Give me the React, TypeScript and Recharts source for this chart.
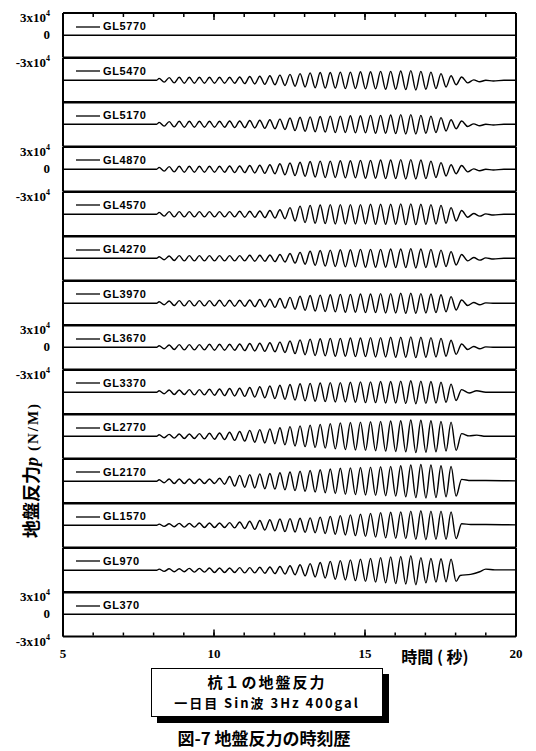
import React from 'react';
import { LineChart, Line, XAxis, YAxis, ReferenceLine, Legend } from 'recharts';

// pile 1 ground reaction, one trace per depth (top to bottom)
const depths = [
  'GL5770', 'GL5470', 'GL5170', 'GL4870', 'GL4570', 'GL4270', 'GL3970',
  'GL3670', 'GL3370', 'GL2770', 'GL2170', 'GL1570', 'GL970', 'GL370',
];
// panels that carry the 3x10^4 / 0 / -3x10^4 scale
const scaledDepths = ['GL5770', 'GL4870', 'GL3670', 'GL370'];

const waveStart = 8.1; // s
const waveFreq = 3; // Hz (sine input, see note box)

// peak amplitude of each cycle, x10^4 N/M
const amp5770: number[] = [];
const amp5470 = [0.25, 0.35, 0.4, 0.4, 0.4, 0.4, 0.4, 0.4, 0.45, 0.5, 0.55, 0.6, 0.7, 0.8, 0.9, 1.0, 1.05, 1.05, 1.1, 1.1, 1.15, 1.15, 1.2, 1.2, 1.25, 1.3, 1.2, 1.1, 0.9, 0.6];
const amp5170 = [0.25, 0.35, 0.4, 0.4, 0.4, 0.4, 0.4, 0.45, 0.45, 0.5, 0.55, 0.6, 0.7, 0.85, 0.95, 1.0, 1.05, 1.1, 1.1, 1.15, 1.15, 1.2, 1.2, 1.25, 1.3, 1.3, 1.2, 1.1, 0.9, 0.6];
const amp4870 = [0.25, 0.35, 0.4, 0.4, 0.4, 0.4, 0.4, 0.45, 0.45, 0.5, 0.55, 0.6, 0.75, 0.85, 0.95, 1.05, 1.1, 1.1, 1.15, 1.15, 1.2, 1.2, 1.25, 1.25, 1.3, 1.3, 1.25, 1.1, 0.9, 0.6];
const amp4570 = [0.25, 0.35, 0.35, 0.35, 0.35, 0.35, 0.35, 0.35, 0.4, 0.4, 0.45, 0.5, 0.6, 0.9, 1.1, 1.2, 1.25, 1.3, 1.3, 1.3, 1.3, 1.35, 1.35, 1.35, 1.4, 1.4, 1.35, 1.3, 1.2, 0.9];
const amp4270 = [0.2, 0.3, 0.35, 0.35, 0.35, 0.35, 0.35, 0.35, 0.35, 0.4, 0.4, 0.45, 0.5, 0.65, 0.8, 0.95, 1.05, 1.1, 1.15, 1.15, 1.2, 1.2, 1.2, 1.25, 1.25, 1.3, 1.25, 1.2, 1.1, 0.9];
const amp3970 = [0.2, 0.3, 0.35, 0.35, 0.35, 0.35, 0.4, 0.4, 0.4, 0.45, 0.5, 0.55, 0.65, 0.8, 0.95, 1.05, 1.1, 1.15, 1.2, 1.2, 1.25, 1.25, 1.3, 1.3, 1.35, 1.35, 1.3, 1.25, 1.15, 0.9];
const amp3670 = [0.2, 0.3, 0.35, 0.35, 0.35, 0.4, 0.4, 0.4, 0.45, 0.5, 0.55, 0.6, 0.7, 0.85, 1.0, 1.1, 1.15, 1.2, 1.2, 1.25, 1.25, 1.3, 1.3, 1.35, 1.35, 1.4, 1.35, 1.3, 1.2, 0.95];
const amp3370 = [0.2, 0.3, 0.3, 0.35, 0.35, 0.4, 0.45, 0.5, 0.55, 0.65, 0.75, 0.85, 0.95, 1.05, 1.15, 1.2, 1.25, 1.3, 1.3, 1.35, 1.4, 1.4, 1.45, 1.45, 1.5, 1.55, 1.5, 1.45, 1.35, 1.1];
const amp2770 = [0.2, 0.25, 0.3, 0.3, 0.35, 0.4, 0.45, 0.55, 0.65, 0.8, 0.9, 1.0, 1.15, 1.3, 1.4, 1.5, 1.6, 1.7, 1.8, 1.85, 1.9, 1.95, 2.0, 2.05, 2.1, 2.2, 2.15, 2.1, 2.0, 1.9];
const amp2170 = [0.2, 0.3, 0.3, 0.3, 0.3, 0.3, 0.4, 0.65, 0.8, 0.9, 1.0, 1.05, 1.15, 1.25, 1.35, 1.45, 1.55, 1.65, 1.75, 1.8, 1.85, 1.9, 1.95, 2.0, 2.1, 2.2, 2.25, 2.2, 2.1, 2.0];
const amp1570 = [0.15, 0.2, 0.25, 0.25, 0.3, 0.3, 0.3, 0.35, 0.45, 0.55, 0.65, 0.75, 0.85, 0.9, 0.95, 1.0, 1.1, 1.2, 1.3, 1.4, 1.5, 1.6, 1.7, 1.75, 1.8, 1.9, 1.95, 1.9, 1.9, 1.8];
const amp970 = [0.15, 0.2, 0.2, 0.25, 0.25, 0.3, 0.3, 0.3, 0.35, 0.35, 0.4, 0.45, 0.5, 0.6, 0.75, 0.9, 1.05, 1.2, 1.3, 1.4, 1.5, 1.6, 1.7, 1.8, 1.85, 1.95, 1.7, 1.6, 1.55, 1.5];
const amp370: number[] = [];

// what the trace does after shaking stops: [time s, value]
const tail5770: number[][] = [];
const tail5470 = [[18.2, 0.45], [18.4, -0.35], [18.6, 0.05], [18.8, -0.2], [19.0, 0], [19.25, -0.1], [19.6, 0]];
const tail5170 = [[18.2, 0.45], [18.4, -0.3], [18.6, 0.05], [18.8, -0.2], [19.0, 0], [19.25, -0.1], [19.6, 0]];
const tail4870 = [[18.2, 0.5], [18.4, -0.35], [18.6, 0.05], [18.8, -0.2], [19.0, 0], [19.25, -0.1], [19.6, 0]];
const tail4570 = [[18.2, 0.5], [18.4, -0.4], [18.6, 0.1], [18.8, -0.25], [19.0, 0.05], [19.25, -0.1], [19.6, 0]];
const tail4270 = [[18.2, 0.5], [18.4, -0.35], [18.6, 0.1], [18.8, -0.25], [19.0, 0.05], [19.25, -0.1], [19.6, 0]];
const tail3970 = [[18.2, 0.45], [18.4, -0.3], [18.6, 0.1], [18.8, -0.2], [19.0, 0.05], [19.3, 0]];
const tail3670 = [[18.2, 0.45], [18.4, -0.3], [18.6, 0.1], [18.8, -0.2], [19.0, 0.05], [19.3, 0]];
const tail3370 = [[18.2, 0.35], [18.45, -0.1], [18.7, 0.2], [19.0, 0], [19.4, 0]];
const tail2770 = [[18.2, 0.35], [18.45, 0.05], [18.7, 0.15], [19.0, 0], [20, 0]];
const tail2170 = [[18.2, 0.25], [18.5, 0.1], [19.0, 0.1], [20, 0.05]];
const tail1570 = [[18.2, 0.2], [18.5, 0.1], [19.0, 0.1], [20, 0.05]];
const tail970 = [[18.15, -0.7], [18.5, -0.55], [18.8, -0.2], [19.0, 0.15], [19.3, 0.05], [20, 0.05]];
const tail370: number[][] = [];

const ampByDepth = [amp5770, amp5470, amp5170, amp4870, amp4570, amp4270, amp3970, amp3670, amp3370, amp2770, amp2170, amp1570, amp970, amp370];
const tailByDepth = [tail5770, tail5470, tail5170, tail4870, tail4570, tail4270, tail3970, tail3670, tail3370, tail2770, tail2170, tail1570, tail970, tail370];

const yScaleTicks = [-3, 0, 3];
const yMinorTicks = [-2, -1, 0, 1, 2];
const xMinorTicks = [5, 6, 7, 8, 9, 10, 11, 12, 13, 14, 15, 16, 17, 18, 19, 20];
const xMajorTicks = [5, 10, 15, 20];

const SERIF = '"Liberation Serif", "Times New Roman", serif';
const SANS = '"Liberation Sans", Arial, sans-serif';
const CJK = '"Noto Sans CJK JP", sans-serif';

const W = 528;
const PLOT_LEFT = 55;
const PLOT_RIGHT = 508;
const TOP = 5.3;
const PANEL_H = 44.55;
const PAD = 14;

function buildSeries(amp: number[], tail: number[][]) {
  const pts = [{ t: 5, v: 0 }];
  const period = 1 / waveFreq;
  if (amp.length) {
    pts.push({ t: waveStart, v: 0 });
    amp.forEach((a, k) => {
      pts.push({ t: waveStart + k * period + period / 4, v: a });
      pts.push({ t: waveStart + k * period + (3 * period) / 4, v: -a });
    });
  }
  tail.forEach(([t, v]) => pts.push({ t, v }));
  if (pts[pts.length - 1].t < 20) pts.push({ t: 20, v: 0 });
  return pts;
}

const ScaleTick = (props: any) => {
  const { x, y, payload } = props;
  const v = payload.value;
  if (v === 0) {
    return (
      <text x={x} y={y} dy={4} textAnchor="end" fontFamily={SERIF} fontWeight="bold" fontSize={13} fill="#000">
        0
      </text>
    );
  }
  return (
    <text x={x} y={y} dy={9} textAnchor="end" fontFamily={SERIF} fontWeight="bold" fontSize={13} fill="#000">
      {v < 0 ? '-3x10' : '3x10'}
      <tspan dy={-6} fontSize={8}>4</tspan>
    </text>
  );
};

// tick marks only, no label
const BlankTick = () => <g />;

const PanelKey = ({ name }: { name: string }) => (
  <div style={{ display: 'flex', alignItems: 'center', gap: 3 }}>
    <svg width={24} height={4}>
      <line x1={0} y1={2} x2={24} y2={2} stroke="#000" strokeWidth={1.3} />
    </svg>
    <span style={{ fontFamily: SANS, fontWeight: 'bold', fontSize: 11, letterSpacing: 0.6, lineHeight: '13px' }}>
      {name}
    </span>
  </div>
);

function Panel({ index }: { index: number }) {
  const name = depths[index];
  const first = index === 0;
  const last = index === depths.length - 1;
  const scaled = scaledDepths.includes(name);
  const bottomPad = last ? 34 : PAD;
  const data = buildSeries(ampByDepth[index], tailByDepth[index]);
  const tickStroke = { stroke: '#000', strokeWidth: 1.5 };
  // axes need a size of at least 1px to be drawn; non-mirrored ones eat it from the margin
  const axisProps = { dataKey: 't', type: 'number' as const, domain: [5, 20], interval: 0 as const, allowDataOverflow: true };

  return (
    <div style={{ position: 'absolute', left: 0, top: TOP + index * PANEL_H - PAD }}>
      <LineChart
        width={W}
        height={PANEL_H + PAD + bottomPad}
        data={data}
        margin={{ top: PAD, bottom: last ? bottomPad - 1 : bottomPad, left: PLOT_LEFT - 1, right: W - PLOT_RIGHT }}
      >
        <XAxis {...axisProps} hide height={0} />
        {first && (
          <XAxis {...axisProps} xAxisId="topMinor" orientation="top" mirror height={1}
            ticks={xMinorTicks} tickSize={3} tick={BlankTick} axisLine={false} tickLine={tickStroke} />
        )}
        {first && (
          <XAxis {...axisProps} xAxisId="topMajor" orientation="top" mirror height={1}
            ticks={xMajorTicks} tickSize={7} tick={BlankTick} axisLine={false} tickLine={tickStroke} />
        )}
        {last && (
          <XAxis {...axisProps} xAxisId="botMinor" orientation="bottom" mirror height={1}
            ticks={xMinorTicks} tickSize={3} tick={BlankTick} axisLine={false} tickLine={tickStroke} />
        )}
        {last && (
          <XAxis {...axisProps} xAxisId="botMajor" orientation="bottom" mirror height={1}
            ticks={xMajorTicks} tickSize={7} tick={BlankTick} axisLine={false} tickLine={tickStroke} />
        )}
        {last && (
          <XAxis {...axisProps} xAxisId="labels" orientation="bottom" height={1}
            ticks={xMajorTicks} tickSize={0} tickMargin={12} tickLine={false} axisLine={false}
            tick={{ fontFamily: SERIF, fontWeight: 'bold', fontSize: 13, fill: '#000' }} />
        )}
        <YAxis type="number" domain={[-3, 3]} width={1} ticks={scaled ? yScaleTicks : [0]} interval={0}
          tickSize={0} tickMargin={13} tickLine={false} tick={scaled ? <ScaleTick /> : BlankTick}
          axisLine={{ stroke: '#000', strokeWidth: 2 }} allowDataOverflow />
        <YAxis yAxisId="leftMinor" type="number" domain={[-3, 3]} width={1} mirror ticks={yMinorTicks} interval={0}
          tickSize={4} tick={BlankTick} axisLine={false} tickLine={tickStroke} />
        <YAxis yAxisId="right" orientation="right" type="number" domain={[-3, 3]} width={1} mirror ticks={yMinorTicks}
          interval={0} tickSize={4} tick={BlankTick} axisLine={{ stroke: '#000', strokeWidth: 2 }} tickLine={tickStroke} />
        <ReferenceLine y={3} stroke="#000" strokeWidth={2} />
        <ReferenceLine y={-3} stroke="#000" strokeWidth={2} />
        <Legend layout="vertical" align="center" verticalAlign="middle"
          wrapperStyle={{ left: 68, top: PAD + 7, width: 'auto', height: 'auto' }}
          content={() => <PanelKey name={name} />} />
        <Line type="monotone" dataKey="v" stroke="#000" strokeWidth={1.4} dot={false} isAnimationActive={false} />
      </LineChart>
    </div>
  );
}

export default function App() {
  return (
    <div style={{ position: 'relative', width: W, height: 743, background: '#fff', color: '#000' }}>
      {depths.map((d, i) => (
        <Panel key={d} index={i} />
      ))}
      <div style={{ position: 'absolute', left: 22, top: 462, transform: 'translate(-50%, -50%) rotate(-90deg)', whiteSpace: 'nowrap', fontFamily: CJK, fontWeight: 'bold', fontSize: 18 }}>
        地盤反力<span style={{ fontFamily: SERIF, fontStyle: 'italic' }}>p</span>
        <span style={{ fontFamily: SERIF, fontSize: 15, letterSpacing: 2, marginLeft: 6 }}>(N/M)</span>
      </div>
      <div style={{ position: 'absolute', left: 427, top: 648, transform: 'translate(-50%, -50%)', whiteSpace: 'nowrap', fontFamily: CJK, fontWeight: 'bold', fontSize: 16 }}>
        時間 ( 秒)
      </div>
      <div style={{ position: 'absolute', left: 143, top: 660, width: 232, height: 49, boxSizing: 'border-box', border: '1.5px solid #000', boxShadow: '6px 6px 0 #000', background: '#fff', fontFamily: CJK, fontWeight: 'bold', textAlign: 'center' }}>
        <div style={{ fontSize: 15, letterSpacing: 2, lineHeight: '22px', marginTop: 2 }}>杭１の地盤反力</div>
        <div style={{ fontSize: 13, letterSpacing: 2, lineHeight: '20px' }}>一日目 Sin波 3Hz 400gal</div>
      </div>
      <div style={{ position: 'absolute', left: 256, top: 720, width: 'auto', transform: 'translateX(-50%)', whiteSpace: 'nowrap', fontFamily: CJK, fontWeight: 'bold', fontSize: 17, lineHeight: '20px' }}>
        図-7 地盤反力の時刻歴
      </div>
    </div>
  );
}
